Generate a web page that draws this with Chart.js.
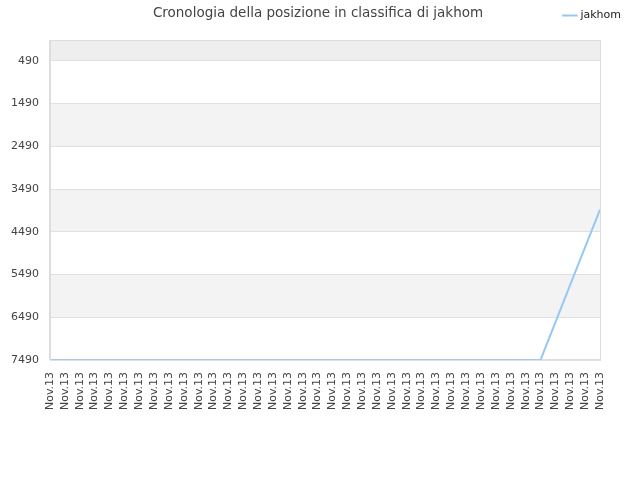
<!DOCTYPE html>
<html>
<head>
<meta charset="utf-8">
<script src="https://cdn.jsdelivr.net/npm/chart.js@4"></script>
<style>
  html, body { margin: 0; padding: 0; background: #fff; }
  #wrap { position: relative; width: 640px; height: 480px; }
  #title {
    position: absolute; left: 0; top: 4px; width: 636px; text-align: center;
    font-family: "DejaVu Sans", sans-serif; font-size: 13.5px; color: #444;
  }
</style>
</head>
<body>
<div id="wrap">
  <div id="title">Cronologia della posizione in classifica di jakhom</div>
  <canvas id="myChart" width="640" height="480"></canvas>
</div>
<script>
// 38 samples, all labelled with the same day
const labels = [
  'Nov.13', 'Nov.13', 'Nov.13', 'Nov.13', 'Nov.13', 'Nov.13', 'Nov.13', 'Nov.13',
  'Nov.13', 'Nov.13', 'Nov.13', 'Nov.13', 'Nov.13', 'Nov.13', 'Nov.13', 'Nov.13',
  'Nov.13', 'Nov.13', 'Nov.13', 'Nov.13', 'Nov.13', 'Nov.13', 'Nov.13', 'Nov.13',
  'Nov.13', 'Nov.13', 'Nov.13', 'Nov.13', 'Nov.13', 'Nov.13', 'Nov.13', 'Nov.13',
  'Nov.13', 'Nov.13', 'Nov.13', 'Nov.13', 'Nov.13', 'Nov.13',
];
const positions = [
  7490, 7490, 7490, 7490, 7490, 7490, 7490, 7490,
  7490, 7490, 7490, 7490, 7490, 7490, 7490, 7490,
  7490, 7490, 7490, 7490, 7490, 7490, 7490, 7490,
  7490, 7490, 7490, 7490, 7490, 7490, 7490, 7490,
  7490, 7490, 6610, 5730, 4850, 3970,
];
const yTicks = [490, 1490, 2490, 3490, 4490, 5490, 6490, 7490];

// alternating background bands + frame round the plot
const bands = {
  id: 'bands',
  beforeDraw(chart) {
    const { ctx, chartArea: a, scales: { y } } = chart;
    ctx.save();
    const edges = [y.min].concat(yTicks);
    for (let i = 0; i < edges.length - 1; i++) {
      const y1 = y.getPixelForValue(edges[i]);
      const y2 = y.getPixelForValue(edges[i + 1]);
      const k = edges.length - 2 - i;
      if (i === 0) ctx.fillStyle = '#eeeeee';
      else if (k % 2 === 1) ctx.fillStyle = '#f3f3f3';
      else ctx.fillStyle = '#ffffff';
      ctx.fillRect(a.left, Math.min(y1, y2), a.right - a.left, Math.abs(y2 - y1));
    }
    ctx.restore();
  },
  afterDraw(chart) {
    const { ctx, chartArea: a } = chart;
    ctx.save();
    ctx.strokeStyle = '#dddddd';
    ctx.lineWidth = 1;
    ctx.strokeRect(a.left + 0.5, a.top + 0.5, a.right - a.left, a.bottom - a.top);
    ctx.restore();
  },
};

// legend sits further right and leaves more room under it
const legendTweak = {
  id: 'legendTweak',
  beforeInit(chart) {
    const fit = chart.legend.fit;
    chart.legend.fit = function () {
      fit.call(this);
      this.height += 9;
    };
  },
  afterLayout(chart) {
    chart.legend.left += 27;
    chart.legend.right += 27;
  },
};

Chart.defaults.font.family = '"DejaVu Sans", sans-serif';
Chart.defaults.color = '#444';

const ctx = document.getElementById('myChart').getContext('2d');
const myChart = new Chart(ctx, {
  type: 'line',
  data: {
    labels: labels,
    datasets: [
      {
        label: 'jakhom',
        data: positions,
        borderColor: 'rgba(150, 200, 245, 1)',
        backgroundColor: 'rgba(150, 200, 245, 1)',
        borderWidth: 2,
        pointRadius: 0,
        tension: 0,
      },
    ],
  },
  options: {
    responsive: false,
    animation: false,
    layout: {
      padding: { left: 0, right: 40, top: 4, bottom: 66 },
    },
    plugins: {
      title: { display: false },
      tooltip: { enabled: false },
      legend: {
        position: 'top',
        align: 'end',
        labels: {
          usePointStyle: true,
          pointStyle: 'line',
          boxWidth: 10,
          font: { size: 11 },
          color: '#222',
          padding: 6,
        },
      },
    },
    scales: {
      x: {
        grid: { display: false },
        border: { color: '#dddddd' },
        ticks: {
          autoSkip: false,
          maxRotation: 90,
          minRotation: 90,
          font: { size: 11 },
          padding: 4,
        },
      },
      y: {
        reverse: true,
        min: 0,
        max: 7490,
        afterBuildTicks(axis) {
          axis.ticks = yTicks.map(v => ({ value: v }));
        },
        grid: { color: '#e0e0e0', drawTicks: false },
        border: { color: '#dddddd' },
        ticks: {
          font: { size: 11 },
          padding: 11,
          callback: v => String(v),
        },
      },
    },
  },
  plugins: [bands, legendTweak],
});
</script>
</body>
</html>
